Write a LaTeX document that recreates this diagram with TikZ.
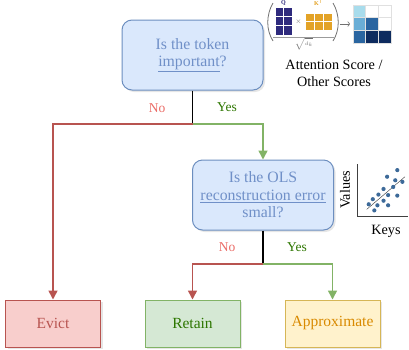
\documentclass[tikz,border=0pt]{standalone}
\usepackage{fontspec}
\setmainfont{Liberation Serif}
\usepackage{tikz}
\usetikzlibrary{arrows.meta,positioning,calc,shadows}
\definecolor{decfill}{HTML}{DAE8FC}
\definecolor{decdraw}{HTML}{6C8EBF}
\definecolor{dectext}{HTML}{7090C8}
\definecolor{evfill}{HTML}{F8CECC}
\definecolor{evdraw}{HTML}{B85450}
\definecolor{rtfill}{HTML}{D5E8D4}
\definecolor{rtdraw}{HTML}{82B366}
\definecolor{rttext}{HTML}{2D7600}
\definecolor{apfill}{HTML}{FFF2CC}
\definecolor{apdraw}{HTML}{D6B656}
\definecolor{aptext}{HTML}{D98A00}
\definecolor{nocol}{HTML}{EA6B66}
\definecolor{qcol}{HTML}{2E2A7D}
\definecolor{kcol}{HTML}{E3A327}
\definecolor{icongray}{HTML}{707070}
\definecolor{dotcol}{HTML}{3D6A99}
\definecolor{sca}{HTML}{A8DCEC}
\definecolor{scb}{HTML}{6AAED6}
\definecolor{scc}{HTML}{2A65A0}
\definecolor{scd}{HTML}{0D2B5E}

\begin{document}
\begin{tikzpicture}[
    x=1pt,y=-1pt,
    decision/.style = {rectangle, rounded corners=10pt, draw=decdraw, fill=decfill,
                       line width=1pt, align=center, text=dectext,
                       font=\fontsize{15.8}{17.5}\selectfont,
                       minimum width=141pt, minimum height=70pt,
                       drop shadow={opacity=0.2,shadow xshift=2pt,shadow yshift=-2pt}},
    leaf/.style     = {rectangle, line width=1pt, align=center,
                       font=\fontsize{15.5}{18}\selectfont,
                       minimum width=95pt, minimum height=47pt,
                       drop shadow={opacity=0.2,shadow xshift=2pt,shadow yshift=-2pt}},
    stem/.style     = {black, line width=1.5pt},
    nobr/.style     = {evdraw, line width=1.5pt, -{Triangle[length=9pt,width=9pt]}},
    yesbr/.style    = {rtdraw, line width=1.5pt, -{Triangle[length=9pt,width=9pt]}},
    nolab/.style    = {font=\fontsize{13.5}{15}\selectfont, text=nocol},
    yeslab/.style   = {font=\fontsize{13.5}{15}\selectfont, text=rttext},
    captxt/.style   = {font=\fontsize{14.2}{17}\selectfont, align=center},
    cell/.style     = {draw=white, line width=0.6pt},
  ]
  \useasboundingbox (0,0) rectangle (409,349);

  % Decisions
  \node[decision] (imp) at (192.5,55) {Is the token\\\underline{important}?};
  \node[decision] (ols) at (263,195)
       {Is the OLS\\\underline{reconstruction error}\\small?};

  % Outcomes
  \node[leaf, draw=evdraw, fill=evfill, text=evdraw] (evict) at (53,323.5) {Evict};
  \node[leaf, draw=rtdraw, fill=rtfill, text=rttext] (retain) at (192.5,323.5) {Retain};
  \node[leaf, draw=apdraw, fill=apfill, text=aptext] (approx) at (332.5,323.5) {Approximate};

  % Branches
  \coordinate (j1) at (imp.south |- 0,124);
  \coordinate (j2) at (ols.south |- 0,264);
  \draw[stem] (imp.south) -- (j1);
  \draw[nobr] (j1) -| (evict.north);
  \draw[yesbr] (j1) -| (ols.north);
  \node[nolab] (no1) at (157,108) {No};
  \node[yeslab] (yes1) at (227,107) {Yes};

  \draw[stem] (ols.south) -- (j2);
  \draw[nobr] (j2) -| (retain.north);
  \draw[yesbr] (j2) -| (approx.north);
  \node[nolab] (no2) at (227,247) {No};
  \node[yeslab] (yes2) at (297,247) {Yes};

  % Attention score icon
  \draw[icongray, line width=0.8pt] (273,3) .. controls (266,15) and (266,30) .. (273,41);
  \draw[icongray, line width=0.8pt] (333,3) .. controls (340,15) and (340,30) .. (333,41);
  \foreach \c in {0,1}
    \foreach \r in {0,1,2}
      \filldraw[cell, fill=qcol] (275+8.5*\c,7+9.3*\r) rectangle ++(8.5,9.3);
  \foreach \c in {0,1,2}
    \foreach \r in {0,1}
      \filldraw[cell, fill=kcol] (305+9*\c,13+8.5*\r) rectangle ++(9,8.5);
  \node[font=\fontsize{6}{7}\selectfont\bfseries, text=qcol, inner sep=0pt] (qlab) at (283.5,3) {Q};
  \node[font=\fontsize{6}{7}\selectfont\bfseries, text=kcol, inner sep=0pt] (klab) at (318.5,3) {K$^{\mathsf{T}}$};
  \node[font=\scriptsize, text=icongray, inner sep=0pt] (times) at (298.5,22) {$\times$};
  \draw[icongray!70, line width=0.6pt] (273,37) -- (334,37);
  \node[font=\tiny, text=icongray, inner sep=0pt] (sqd) at (304,43.5) {$\sqrt{d_k}$};
  \draw[icongray, line width=0.6pt, -{To[length=2.5pt]}] (340,24) -- (350,24);
  \foreach \c/\r/\f in {0/0/sca,1/0/white,2/0/white,
                        0/1/scb,1/1/scc,2/1/white,
                        0/2/scc,1/2/scd,2/2/scd}
    \filldraw[draw=black!12, line width=0.6pt, fill=\f] (353+12.7*\c,5+12.7*\r) rectangle ++(12.7,12.7);
  \node[captxt] (attn) at (334,73.5) {Attention Score /\\Other Scores};

  % Key/value scatter icon
  \draw[black!75, line width=0.8pt] (357,164) -- (357,216) -- (408,216);
  \draw[black!80, line width=0.4pt] ($(357,216)+(0.19*51,-0.13*51)$) -- ($(357,216)+(0.94*51,-0.77*51)$);
  \foreach \u/\v in {0.79/0.90,0.59/0.77,0.75/0.70,0.89/0.67,0.52/0.53,0.71/0.57,
                     0.42/0.42,0.61/0.41,0.79/0.40,0.31/0.33,0.52/0.30,0.23/0.23,
                     0.40/0.21,0.61/0.21,0.34/0.11}
    \fill[dotcol] ($(357,216)+(\u*51,-\v*51)$) circle (2.1);
  \node[captxt, rotate=90] (vals) at (345,190) {Values};
  \node[captxt] (keys) at (386,231) {Keys};

\end{tikzpicture}
\end{document}
